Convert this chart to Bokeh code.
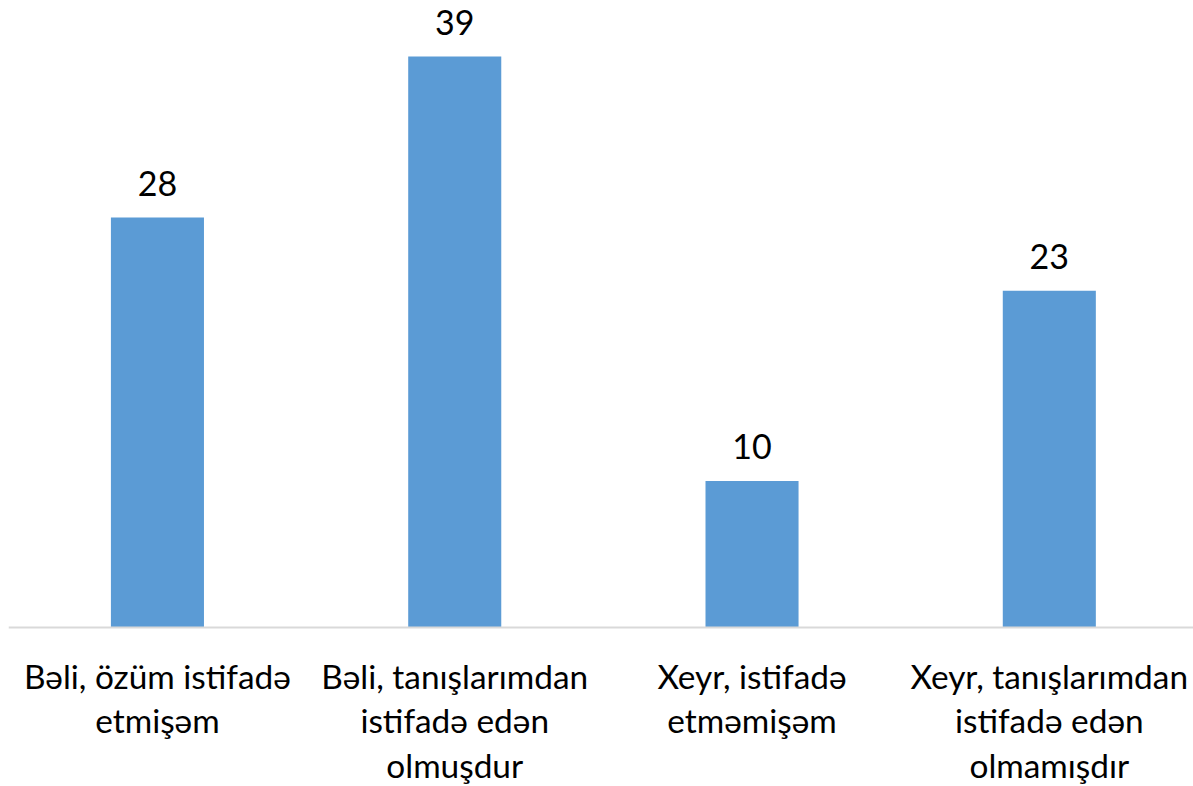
from bokeh.plotting import figure
from bokeh.models import Range1d, Span, ColumnDataSource
from bokeh.core.properties import value
from bokeh.embed import file_html
from bokeh.resources import INLINE

categories = [
    "Bəli, özüm istifadə\netmişəm",
    "Bəli, tanışlarımdan\nistifadə edən\nolmuşdur",
    "Xeyr, istifadə\netməmişəm",
    "Xeyr, tanışlarımdan\nistifadə edən\nolmamışdır",
]
values = [28, 39, 10, 23]
positions = list(range(len(categories)))

FONT = "Lato"

src = ColumnDataSource(dict(
    x=positions,
    v=values,
    vlab=[str(v) for v in values],
    cat=categories,
    zero=[0] * len(values),
))

p = figure(
    width=1193, height=786,
    x_range=Range1d(-0.501, 3.485),
    y_range=Range1d(-10.86, 42.83),
    output_backend="svg", toolbar_location=None,
    min_border=0, min_border_left=8, min_border_right=0,
    min_border_top=0, min_border_bottom=0,
)
p.axis.visible = False
p.grid.visible = False
p.outline_line_color = None
p.background_fill_color = "white"
p.border_fill_color = "white"

p.vbar(x="x", top="v", bottom=0, width=0.313, source=src,
       fill_color="#5b9bd5", line_color=None)

p.add_layout(Span(location=0, dimension="width", line_color="#d9d9d9", line_width=2))

p.text(x="x", y="v", text="vlab", source=src,
       text_font=value(FONT), text_font_size="34px", text_color="black",
       text_align="center", text_baseline="bottom", y_offset=-22)

p.text(x="x", y="zero", text="cat", source=src,
       text_font=value(FONT), text_font_size="33.4px", text_color="black",
       text_align="center", text_baseline="top", y_offset=28,
       text_line_height=1.12)

open("out.html", "w").write(file_html(p, INLINE))
